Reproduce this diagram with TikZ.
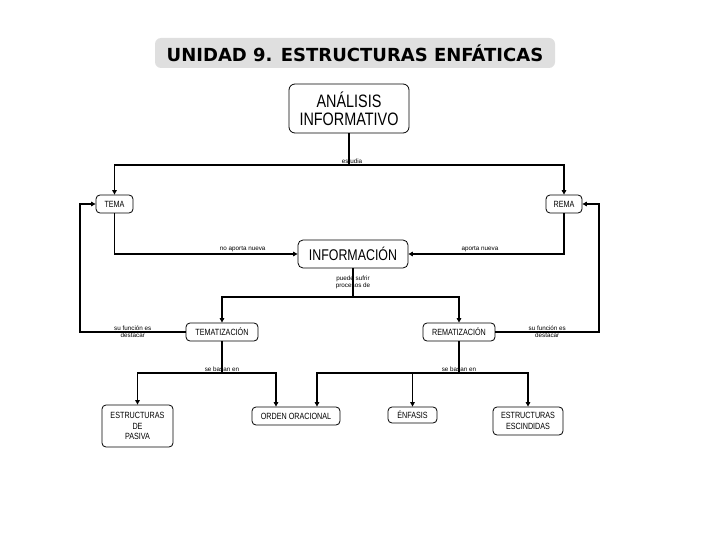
\documentclass[tikz,border=0pt]{standalone}
\usepackage{fontspec}
\setmainfont{Liberation Sans}
\newfontfamily\cajafont[FakeStretch=0.8]{Liberation Sans}
\newfontfamily\titfont{DejaVu Sans}
\usetikzlibrary{calc,arrows.meta,positioning}

\begin{document}
\begin{tikzpicture}[
    x=1pt, y=-1pt,
    >={Triangle[length=4.5pt,width=4.5pt]},
    flecha/.style={line width=1.6pt},
    caja/.style={draw, line width=0.8pt, rounded corners=4pt, fill=white, align=center,
                 inner sep=1pt, font=\cajafont\fontsize{9}{10.5}\selectfont},
    etiq/.style={font=\fontsize{6.3}{6.8}\selectfont, align=center, inner sep=1pt}
  ]
  \useasboundingbox (0,0) rectangle (720,540);

  % Titulo
  \node[fill=gray!25, rounded corners=6pt, minimum width=400pt, minimum height=30pt,
        font=\titfont\bfseries\fontsize{18}{20}\selectfont] (titulo) at (355,53)
    {UNIDAD 9. ESTRUCTURAS ENFÁTICAS};

  % Analisis informativo (arriba)
  \node[caja, rounded corners=6pt, minimum width=120pt, minimum height=49pt,
        font=\cajafont\fontsize{18}{18}\selectfont] (analisis) at (349,108.5)
    {ANÁLISIS\\INFORMATIVO};

  % Tema y rema
  \node[caja, minimum width=37pt, minimum height=18pt] (tema) at (114.5,204) {TEMA};
  \node[caja, minimum width=36pt, minimum height=18pt] (rema) at (564,204) {REMA};

  % Informacion (centro)
  \node[caja, rounded corners=5pt, minimum width=110pt, minimum height=28pt,
        font=\cajafont\fontsize{15.5}{16}\selectfont] (info) at (353,254) {INFORMACIÓN};

  % Procesos
  \node[caja, minimum width=72pt, minimum height=18pt] (tematiz) at (222,332) {TEMATIZACIÓN};
  \node[caja, minimum width=72pt, minimum height=18pt] (rematiz) at (459,332) {REMATIZACIÓN};

  % Estructuras (abajo)
  \node[caja, minimum width=71pt, minimum height=42pt] (pasiva) at (137.5,426)
    {ESTRUCTURAS\\DE\\PASIVA};
  \node[caja, minimum width=88pt, minimum height=18pt] (orden) at (296,416) {ORDEN ORACIONAL};
  \node[caja, minimum width=49pt, minimum height=16pt] (enfasis) at (412.5,415) {ÉNFASIS};
  \node[caja, minimum width=70pt, minimum height=28pt] (escind) at (528,421)
    {ESTRUCTURAS\\ESCINDIDAS};

  % Puntos de reparto
  \coordinate (j1) at (349,165);
  \coordinate (j2) at (353,297);
  \coordinate (j3) at (222,373);
  \coordinate (j4) at (459,373);
  \coordinate (lz) at (80,332);
  \coordinate (rz) at (599,332);

  % Conexiones
  \draw[flecha] (analisis) -- (j1);
  \node[etiq, anchor=south, xshift=3pt] at (j1) {estudia};
  \draw[flecha, ->] (j1) -| (tema);
  \draw[flecha, ->] (j1) -| (rema);

  \draw[flecha, ->] (tema) |- (info) node[pos=0.85, etiq, above] {no aporta nueva};
  \draw[flecha, ->] (rema) |- (info) node[pos=0.77, etiq, above] {aporta nueva};

  \draw[flecha] (info) -- (j2) node[pos=0.5, etiq] {puede sufrir\\procesos de};
  \draw[flecha, ->] (j2) -| (tematiz);
  \draw[flecha, ->] (j2) -| (rematiz);

  \draw[flecha, ->] (tematiz) -- (lz) |- (tema);
  \node[etiq] at ($(tematiz.west)!0.5!(lz)$) {su función es\\destacar};
  \draw[flecha, ->] (rematiz) -- (rz) |- (rema);
  \node[etiq] at ($(rematiz.east)!0.5!(rz)$) {su función es\\destacar};

  \draw[flecha] (tematiz) -- (j3);
  \node[etiq, anchor=south] at (j3) {se basan en};
  \draw[flecha, ->] (j3) -| (pasiva);
  \draw[flecha, ->] (j3) -| ([xshift=-20pt]orden.north);

  \draw[flecha] (rematiz) -- (j4);
  \node[etiq, anchor=south] at (j4) {se basan en};
  \draw[flecha, ->] (j4) -| ([xshift=21pt]orden.north);
  \draw[flecha, ->] (j4) -| (enfasis);
  \draw[flecha, ->] (j4) -| (escind);

\end{tikzpicture}
\end{document}
